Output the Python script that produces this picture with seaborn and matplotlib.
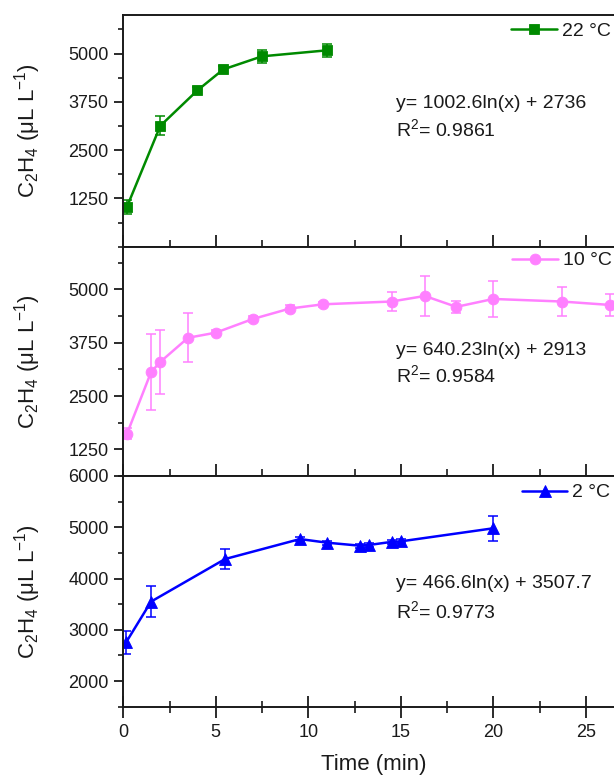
import numpy as np
import pandas as pd
import matplotlib
matplotlib.use("Agg")
import matplotlib.pyplot as plt
import seaborn as sns
from matplotlib.ticker import MultipleLocator, FixedLocator

# ---------------- data ----------------
t22 = [0.2, 2.0, 4.0, 5.4, 7.5, 11.0]
c22 = [1035, 3130, 4045, 4590, 4930, 5085]
e22 = [180, 250, 100, 90, 165, 170]

t10 = [0.2, 1.5, 2.0, 3.5, 5.0, 7.0, 9.0, 10.8, 14.5, 16.3, 18.0, 20.0, 23.7, 26.3]
c10 = [1615, 3060, 3300, 3865, 3985, 4305, 4550, 4650, 4715, 4845, 4590, 4775, 4715, 4635]
e10 = [130, 895, 750, 570, 60, 60, 80, 60, 220, 475, 145, 430, 330, 265]

t2 = [0.15, 1.5, 5.5, 9.55, 11.0, 12.8, 13.3, 14.5, 15.0, 20.0]
c2 = [2755, 3550, 4380, 4770, 4700, 4640, 4655, 4715, 4725, 4980]
e2 = [230, 300, 190, 40, 40, 40, 40, 40, 40, 240]

labels = ["22 °C", "10 °C", "2 °C"]
equations = ["y= 1002.6ln(x) + 2736", "y= 640.23ln(x) + 2913", "y= 466.6ln(x) + 3507.7"]
r2_values = ["0.9861", "0.9584", "0.9773"]
ylims = [(0, 6000), (625, 6000), (1500, 6000)]
yticks = [[1250, 2500, 3750, 5000], [1250, 2500, 3750, 5000], [2000, 3000, 4000, 5000, 6000]]
yminor = [625, 625, 500]
xticks = [0, 5, 10, 15, 20, 25, 30]

# ---------------- style ----------------
sns.set_theme(style="ticks")
plt.rcParams["font.family"] = ["Liberation Sans", "DejaVu Sans"]
plt.rcParams["mathtext.fontset"] = "custom"
plt.rcParams["mathtext.rm"] = "Liberation Sans"
plt.rcParams["mathtext.it"] = "Liberation Sans:italic"
plt.rcParams["axes.linewidth"] = 1.4
txt = "#1a1a1a"

series = [
    (t22, c22, e22, "#008a00", "s", 7.3),
    (t10, c10, e10, "#ff80ff", "o", 7.8),
    (t2, c2, e2, "#0000ff", "^", 8.3),
]

fig = plt.figure(figsize=(6.14, 7.78), dpi=100)
W, H = 614.0, 778.0
left_px, right_px = 123.3, 624.5
panels_px = [(15.0, 246.7), (246.7, 476.0), (476.0, 706.7)]
text_y = [(0.620, 0.508), (0.549, 0.440), (0.532, 0.415)]
leg_pos = [(0.774, 0.932), (0.776, 0.939), (0.795, 0.928)]

axes = []
for i, (top, bot) in enumerate(panels_px):
    ax = fig.add_axes([left_px / W, 1 - bot / H, (right_px - left_px) / W, (bot - top) / H])
    axes.append(ax)

for i, ax in enumerate(axes):
    t, c, e, col, mk, ms = series[i]
    df = pd.DataFrame({"Time (min)": t, "C2H4": c, "err": e})
    ax.errorbar(df["Time (min)"], df["C2H4"], yerr=df["err"], fmt="none",
                ecolor=col, elinewidth=1.1, capsize=3.8, capthick=1.1, zorder=1.5)
    sns.lineplot(data=df, x="Time (min)", y="C2H4", ax=ax, color=col, marker=mk,
                 markersize=ms, markeredgewidth=0.6, markeredgecolor=col,
                 linewidth=1.8, errorbar=None, label=labels[i], sort=False)
    ax.set_xlim(0, (right_px - left_px) / 18.5)
    ax.set_ylim(*ylims[i])
    ax.yaxis.set_major_locator(FixedLocator(yticks[i]))
    ax.yaxis.set_minor_locator(MultipleLocator(yminor[i]))
    ax.xaxis.set_major_locator(FixedLocator(xticks))
    ax.xaxis.set_minor_locator(MultipleLocator(2.5))
    for s in ax.spines.values():
        s.set_visible(True)
        s.set_linewidth(1.4)
        s.set_color("#1a1a1a")
    ax.tick_params(axis="y", which="major", direction="out", length=6.5, width=1.3,
                   labelsize=13, pad=4, colors=txt)
    ax.tick_params(axis="y", which="minor", direction="out", length=3.6, width=1.2, colors=txt)
    if i < 2:
        ax.tick_params(axis="x", which="major", direction="in", length=8.4, width=1.3,
                       labelbottom=False, colors=txt)
        ax.tick_params(axis="x", which="minor", direction="in", length=5.3, width=1.2, colors=txt)
        ax.set_xlabel("")
    else:
        ax.tick_params(axis="x", which="major", direction="inout", length=16, width=1.3,
                       labelsize=13, pad=4.5, colors=txt)
        ax.tick_params(axis="x", which="minor", direction="inout", length=8.6, width=1.2, colors=txt)
        ax.set_xlabel("Time (min)", fontsize=16, color=txt)
        ax.xaxis.set_label_coords(0.5, -0.203)
    ax.set_ylabel(r"C$\mathregular{_2}$H$\mathregular{_4}$ (μL L$\mathregular{^{-1}}$)",
                  fontsize=16, color=txt)
    ax.yaxis.set_label_coords(-0.160, 0.5)
    ax.text(0.544, text_y[i][0], equations[i], transform=ax.transAxes, fontsize=14,
            color=txt, va="center", ha="left")
    ax.text(0.544, text_y[i][1], r"R$\mathregular{^2}$= " + r2_values[i],
            transform=ax.transAxes, fontsize=14, color=txt, va="center", ha="left")
    ax.legend(loc="center left", bbox_to_anchor=leg_pos[i], frameon=False,
              fontsize=14, handlelength=2.35, handletextpad=0.25, borderpad=0,
              borderaxespad=0, labelcolor=txt)
    ax.set_facecolor("white")

fig.savefig("out.png", dpi=100)
